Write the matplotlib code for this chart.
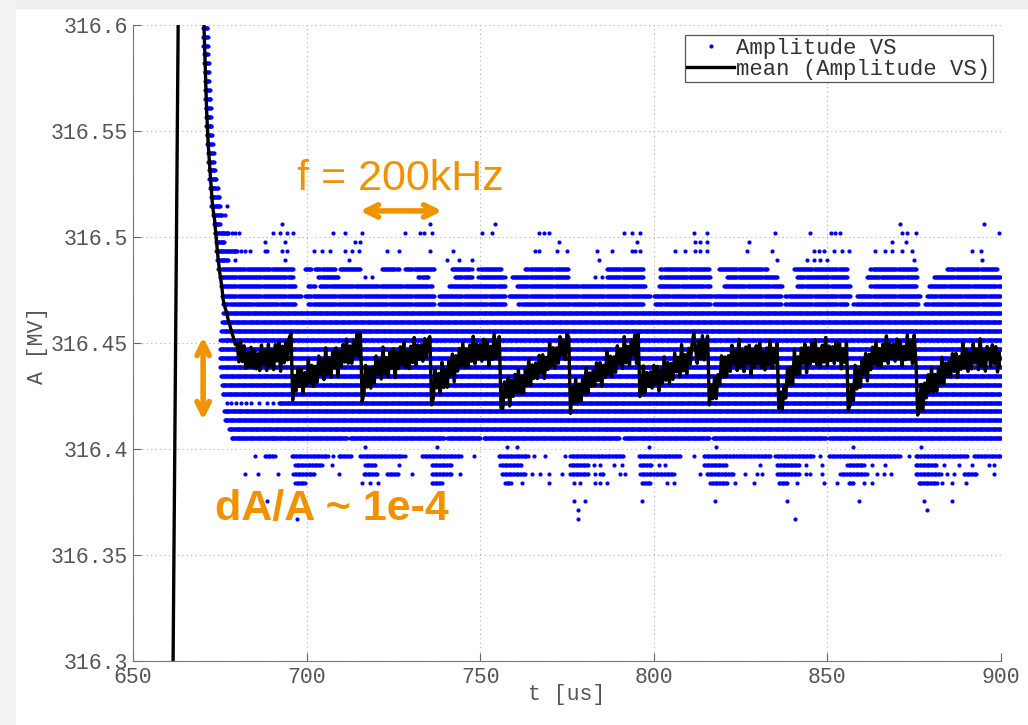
import numpy as np
import matplotlib
matplotlib.use("Agg")
import matplotlib.pyplot as plt
from matplotlib.patches import Rectangle

# ==========================
# DATA
# ==========================

# mean trace, start-up transient (t [us], A [MV])
MEAN_T_START = [661.45, 663.1, 666.5, 670.2, 670.45, 670.75, 671.2, 671.65,
                672.3, 672.9, 673.5, 674.0, 674.5]
MEAN_A_START = [316.28, 316.62, 317.2, 316.62, 316.5992, 316.5835, 316.5599,
                316.5442, 316.5284, 316.5150, 316.5080, 316.4990, 316.4900]

# mean trace after settling: 0.5 us samples, values in 1e-4 MV above 316.4
MEAN_DT = 0.5
PERIOD_START = [675.0, 696.0, 716.0, 736.0, 756.0, 776.0, 796.0, 816.0,
                836.0, 856.0, 876.0]
MEAN_P0 = [830, 775, 702, 668, 641, 603, 578, 546, 522, 492,
           498, 411, 508, 412, 487, 380, 454, 387, 480, 387,
           466, 378, 450, 370, 491, 398, 464, 370, 495, 392,
           467, 374, 493, 415, 505, 367, 485, 406, 507, 420,
           525, 545]
MEAN_P1 = [231, 346, 274, 381, 295, 378, 262, 360, 300, 423,
           311, 395, 295, 390, 314, 439, 350, 418, 327, 477,
           352, 429, 338, 459, 384, 477, 342, 463, 388, 493,
           410, 519, 404, 486, 404, 514, 440, 550, 436, 545]
MEAN_P2 = [223, 260, 395, 292, 382, 287, 385, 312, 439, 351,
           421, 330, 481, 355, 431, 339, 459, 382, 473, 336,
           456, 379, 482, 397, 504, 386, 465, 379, 485, 408,
           526, 397, 491, 423, 492, 414, 521, 434, 517, 530]
MEAN_P3 = [208, 240, 375, 288, 356, 262, 410, 290, 374, 291,
           419, 350, 448, 317, 440, 367, 474, 392, 502, 387,
           468, 384, 491, 414, 532, 402, 495, 426, 493, 414,
           518, 429, 510, 390, 485, 422, 543, 428, 509, 530]
MEAN_P4 = [193, 191, 317, 244, 338, 203, 324, 248, 352, 267,
           374, 261, 344, 263, 374, 301, 424, 298, 397, 333,
           406, 332, 442, 359, 445, 332, 432, 375, 501, 392,
           478, 381, 477, 404, 530, 442, 512, 422, 545, 528]
MEAN_P5 = [168, 291, 218, 334, 223, 306, 225, 336, 263, 385,
           260, 359, 296, 370, 297, 407, 323, 409, 295, 395,
           337, 462, 352, 438, 340, 435, 361, 487, 399, 469,
           379, 530, 406, 484, 394, 516, 442, 537, 404, 546]
MEAN_P6 = [247, 269, 392, 265, 361, 295, 364, 287, 394, 307,
           390, 273, 371, 311, 435, 324, 408, 309, 404, 328,
           453, 364, 433, 342, 493, 368, 445, 354, 475, 400,
           493, 546, 479, 404, 509, 426, 535, 420, 501, 533]
MEAN_P7 = [208, 300, 237, 338, 238, 351, 304, 440, 339, 434,
           341, 440, 366, 490, 399, 465, 370, 517, 388, 460,
           365, 481, 402, 490, 350, 467, 387, 487, 400, 504,
           384, 461, 373, 477, 398, 514, 382, 475, 405, 498]
MEAN_P8 = [192, 269, 185, 298, 240, 380, 306, 387, 306, 467,
           351, 435, 350, 476, 404, 497, 360, 478, 399, 500,
           412, 516, 397, 473, 385, 489, 410, 526, 394, 486,
           417, 483, 403, 507, 418, 498, 378, 472, 409, 506]
MEAN_P9 = [184, 206, 302, 229, 395, 283, 372, 291, 420, 352,
           451, 321, 446, 374, 481, 399, 509, 393, 473, 388,
           494, 416, 534, 403, 496, 427, 494, 414, 519, 429,
           510, 390, 484, 421, 541, 425, 506, 402, 538, 413]
MEAN_P10 = [160, 187, 305, 183, 311, 241, 350, 270, 382, 269,
            352, 272, 383, 310, 433, 307, 406, 342, 414, 340,
            450, 366, 452, 337, 436, 376, 499, 386, 468, 366,
            457, 378, 498, 405, 469, 374, 520, 390, 463, 367,
            483, 468, 388, 492, 403, 483, 363, 458, 394]
MEAN_PERIODS = [MEAN_P0, MEAN_P1, MEAN_P2, MEAN_P3, MEAN_P4, MEAN_P5,
                MEAN_P6, MEAN_P7, MEAN_P8, MEAN_P9, MEAN_P10]

# raw samples sit on ADC levels; runs = (level [MV], t from, t to)
SAMPLE_DT = 0.25
TRANSIENT_RUNS = [
    (316.5987, 670.2, 671.5), (316.5945, 670.3, 671.6), (316.5903, 670.3, 671.6),
    (316.5861, 670.4, 671.8), (316.5819, 670.5, 671.8), (316.5777, 670.6, 672.0),
    (316.5735, 670.7, 672.1), (316.5693, 670.8, 672.2), (316.5651, 670.8, 672.3),
    (316.5609, 670.9, 672.5), (316.5566, 671.0, 672.6), (316.5524, 671.1, 672.7),
    (316.5482, 671.2, 672.9), (316.5440, 671.4, 673.1), (316.5398, 671.5, 673.3),
    (316.5356, 671.7, 673.4), (316.5314, 671.9, 673.8), (316.5272, 672.0, 674.0),
    (316.5230, 672.2, 674.6), (316.5187, 672.4, 675.0), (316.5145, 672.6, 675.3),
    (316.5103, 673.0, 675.6), (316.5061, 673.3, 675.2), (316.5019, 673.5, 677.5),
    (316.4977, 673.8, 676.5), (316.4935, 674.0, 680.0), (316.4893, 674.3, 677.5),
]
UPPER_DT = 0.3
UPPER_RUNS = [
    # 316.4851
    (316.4851, 674.6, 696.2), (316.4851, 699.6, 701.5), (316.4851, 702.5, 708.2),
    (316.4851, 709.5, 715.5), (316.4851, 721.7, 726.5), (316.4851, 728.4, 737.0),
    (316.4851, 741.8, 747.5), (316.4851, 749.5, 756.2), (316.4851, 763.0, 775.5),
    (316.4851, 786.5, 797.1), (316.4851, 801.9, 816.0), (316.4851, 818.7, 832.6),
    (316.4851, 840.3, 855.7), (316.4851, 862.4, 875.8), (316.4851, 884.5, 898.9),
    # 316.4809
    (316.4809, 675.0, 696.2), (316.4809, 703.4, 709.2), (316.4809, 732.2, 735.1),
    (316.4809, 742.8, 747.6), (316.4809, 749.5, 757.2), (316.4809, 759.1, 775.5),
    (316.4809, 786.5, 797.1), (316.4809, 801.9, 816.3), (316.4809, 821.1, 835.5),
    (316.4809, 841.3, 855.7), (316.4809, 861.4, 875.8), (316.4809, 880.6, 899.9),
    # 316.4767
    (316.4767, 675.3, 696.7), (316.4767, 700.5, 702.5), (316.4767, 703.9, 736.1),
    (316.4767, 740.9, 757.2), (316.4767, 760.6, 797.5), (316.4767, 801.4, 816.3),
    (316.4767, 820.1, 836.9), (316.4767, 841.3, 856.6), (316.4767, 862.4, 875.8),
    (316.4767, 879.2, 899.9),
    # 316.4724
    (316.4724, 675.6, 698.6), (316.4724, 699.6, 737.0), (316.4724, 738.0, 757.2),
    (316.4724, 758.2, 799.0), (316.4724, 800.0, 816.8), (316.4724, 817.2, 836.9),
    (316.4724, 837.9, 856.6), (316.4724, 858.5, 876.8), (316.4724, 878.7, 899.9),
    # 316.4682
    (316.4682, 676.0, 696.7), (316.4682, 700.5, 737.0), (316.4682, 738.0, 757.2),
    (316.4682, 761.0, 797.1), (316.4682, 800.4, 816.3), (316.4682, 817.2, 836.9),
    (316.4682, 837.9, 855.6), (316.4682, 857.5, 876.2), (316.4682, 878.2, 899.9),
]
CORE_RUNS = [
    (316.4640, 676.0, 900.0), (316.4598, 675.6, 900.0), (316.4556, 675.4, 900.0),
    (316.4514, 675.2, 900.0), (316.4472, 675.0, 900.0), (316.4430, 675.0, 900.0),
    (316.4388, 675.2, 900.0), (316.4346, 675.4, 900.0), (316.4304, 675.6, 900.0),
    (316.4261, 675.8, 900.0), (316.4219, 692.0, 900.0), (316.4177, 676.2, 900.0),
    (316.4135, 676.4, 900.0), (316.4093, 677.6, 900.0),
    (316.4051, 678.4, 690.0), (316.4051, 690.0, 711.5), (316.4051, 712.5, 739.5),
    (316.4051, 740.5, 750.0), (316.4051, 751.0, 790.0), (316.4051, 791.5, 795.0),
    (316.4051, 795.5, 816.0), (316.4051, 817.0, 849.5), (316.4051, 850.5, 900.0),
]
LOWER_DT = 0.4
LOWER_RUNS = [
    # 316.3967
    (316.3967, 688.0, 690.9), (316.3967, 695.7, 706.3), (316.3967, 709.2, 713.0),
    (316.3967, 715.4, 727.4), (316.3967, 733.2, 744.7), (316.3967, 755.3, 763.9),
    (316.3967, 775.9, 791.3), (316.3967, 795.6, 807.6), (316.3967, 814.4, 833.6),
    (316.3967, 835.0, 846.1), (316.3967, 850.4, 871.0), (316.3967, 875.4, 890.2),
    (316.3967, 892.2, 899.9),
    # 316.3925
    (316.3925, 696.7, 704.4), (316.3925, 716.9, 719.7), (316.3925, 736.1, 741.8),
    (316.3925, 755.8, 762.0), (316.3925, 775.9, 781.2), (316.3925, 796.1, 799.5),
    (316.3925, 814.4, 821.1), (316.3925, 835.5, 842.2), (316.3925, 855.7, 860.5),
    (316.3925, 875.4, 881.6),
    # 316.3882
    (316.3882, 696.2, 702.5), (316.3882, 716.4, 720.7), (316.3882, 723.1, 726.5),
    (316.3882, 736.1, 741.8), (316.3882, 756.2, 763.0), (316.3882, 775.9, 781.2),
    (316.3882, 784.6, 785.5), (316.3882, 796.1, 805.7), (316.3882, 815.3, 823.0),
    (316.3882, 835.5, 842.2), (316.3882, 853.7, 861.4), (316.3882, 875.4, 882.6),
    (316.3882, 889.3, 893.1),
    # 316.3840
    (316.3840, 696.7, 699.6), (316.3840, 736.1, 739.0), (316.3840, 757.2, 759.1),
    (316.3840, 796.6, 799.0), (316.3840, 816.3, 821.1), (316.3840, 836.0, 838.4),
    (316.3840, 856.2, 857.6), (316.3840, 876.3, 881.6),
]

# isolated samples per level (t [us])
DOTS_5145 = [677.2]
DOTS_5103 = [676.5]
DOTS_5061 = [692.8, 735.6, 754.3, 871.0, 895.0]
DOTS_5019 = [678.5, 679.5, 680.4, 690.4, 692.4, 694.3, 696.2, 707.7, 711.1,
             715.9, 728.4, 732.7, 733.7, 736.1, 750.5, 753.4, 766.8, 768.3,
             769.7, 791.3, 793.7, 796.1, 811.5, 815.3, 835.0, 845.1, 850.9,
             852.3, 853.7, 871.5, 873.0, 875.4, 899.4]
DOTS_4977 = [688.0, 693.8, 714.0, 715.4, 772.6, 795.2, 812.0, 813.4, 815.3,
             827.3, 868.6, 872.5]
DOTS_4935 = [681.0, 682.3, 683.7, 688.0, 688.5, 692.8, 694.3, 702.0, 704.4,
             706.8, 711.1, 713.0, 715.0, 723.1, 726.5, 735.6, 742.3, 765.8,
             766.8, 772.1, 775.0, 783.6, 787.9, 793.7, 794.7, 796.1, 806.2,
             809.1, 812.0, 813.4, 815.3, 826.8, 834.1, 846.1, 847.5, 849.0,
             851.8, 854.2, 856.2, 863.8, 866.7, 868.6, 871.5, 874.4, 891.7,
             894.1]
DOTS_4893 = [679.4, 693.8, 712.1, 740.4, 743.8, 747.6, 784.1, 835.5, 844.1,
             846.1, 848.0, 849.9, 874.9, 894.6]
DOTS_4809 = [716.9, 718.8, 783.1, 785.1]
DOTS_4219 = [677.0, 678.2, 679.6, 681.0, 682.5, 684.0, 686.2, 688.5, 690.3]
DOTS_4009 = [716.9, 737.5, 757.7, 760.6, 798.5, 818.0, 857.5, 877.0]
DOTS_3967 = [685.2, 707.7, 728.4, 748.1, 765.4, 768.7, 774.5, 811.5, 848.0,
             873.4]
DOTS_3925 = [707.3, 726.5, 782.7, 784.6, 788.4, 790.8, 801.4, 803.3, 830.7,
             843.7, 848.5, 862.9, 866.7, 883.5, 887.9, 891.7, 896.5, 897.9]
DOTS_3882 = [682.3, 686.1, 691.9, 709.2, 730.3, 744.2, 764.9, 767.3, 769.7,
             773.5, 783.1, 790.3, 791.8, 813.4, 826.4, 829.7, 831.2, 843.7,
             845.1, 848.5, 864.3, 866.2, 868.2, 884.5, 886.4, 897.9]
DOTS_3840 = [715.9, 718.3, 720.7, 762.0, 769.7, 776.9, 778.8, 783.1, 784.6,
             786.5, 803.8, 805.7, 823.5, 828.8, 841.3, 849.0, 852.8, 860.5,
             862.9, 883.0, 885.9, 889.8]
DOTS_3756 = [688.5, 776.9, 780.3, 796.6, 817.7, 838.4, 859.0, 877.8, 885.9]
DOTS_3714 = [778.3, 878.7]
DOTS_3672 = [697.2, 778.3, 840.8]
DOT_LEVELS = [
    (316.5145, DOTS_5145), (316.5103, DOTS_5103), (316.5061, DOTS_5061),
    (316.5019, DOTS_5019), (316.4977, DOTS_4977), (316.4935, DOTS_4935),
    (316.4893, DOTS_4893), (316.4809, DOTS_4809), (316.4219, DOTS_4219),
    (316.4009, DOTS_4009), (316.3967, DOTS_3967), (316.3925, DOTS_3925),
    (316.3882, DOTS_3882), (316.3840, DOTS_3840), (316.3756, DOTS_3756),
    (316.3714, DOTS_3714), (316.3672, DOTS_3672),
]

X_TICKS = [650, 700, 750, 800, 850, 900]
Y_TICKS = [316.3, 316.35, 316.4, 316.45, 316.5, 316.55, 316.6]
Y_TICK_LABELS = ["316.3", "316.35", "316.4", "316.45", "316.5", "316.55", "316.6"]

# ==========================
# BUILD POINT ARRAYS
# ==========================

def runs_to_points(runs, dt):
    ts, amps = [], []
    for a, t0, t1 in runs:
        t = np.arange(t0, t1 + 1e-6, dt)
        ts.append(t)
        amps.append(np.full(t.size, a))
    return ts, amps

dot_t, dot_a = [], []
for runs, dt in [(TRANSIENT_RUNS, SAMPLE_DT), (UPPER_RUNS, UPPER_DT),
                 (CORE_RUNS, SAMPLE_DT), (LOWER_RUNS, LOWER_DT)]:
    ts, amps = runs_to_points(runs, dt)
    dot_t += ts
    dot_a += amps
for a, times in DOT_LEVELS:
    dot_t.append(np.array(times))
    dot_a.append(np.full(len(times), a))
dot_t = np.concatenate(dot_t)
dot_a = np.concatenate(dot_a)

mean_t = [np.array(MEAN_T_START)]
mean_a = [np.array(MEAN_A_START)]
for t0, vals in zip(PERIOD_START, MEAN_PERIODS):
    mean_t.append(t0 + MEAN_DT * np.arange(len(vals)))
    mean_a.append(316.4 + np.array(vals) * 1e-4)
mean_t = np.concatenate(mean_t)
mean_a = np.concatenate(mean_a)

# ==========================
# FIGURE
# ==========================

MONO = "Liberation Mono"
SANS = "Liberation Sans"
TXT = "#555555"
ORANGE = "#f39200"
FS = 15.5

plt.rcParams["font.family"] = MONO

fig = plt.figure(figsize=(10.28, 7.25), dpi=100)
fig.patch.set_facecolor("white")
fig.add_artist(Rectangle((0, 1 - 8 / 725), 1, 8 / 725, transform=fig.transFigure,
                         color="#eeeeee", zorder=0))
fig.add_artist(Rectangle((0, 0), 15 / 1028, 1, transform=fig.transFigure,
                         color="#f2f2f2", zorder=0))

ax = fig.add_axes([133 / 1028, 64 / 725, 868 / 1028, 636 / 725])
ax.set_axisbelow(True)

ax.plot(dot_t, dot_a, ls="none", marker="o", ms=3.0, mew=0, color="#0000ff",
        label="Amplitude VS", zorder=2)
ax.plot(mean_t, mean_a, color="black", lw=2.4, label="mean (Amplitude VS)",
        zorder=3)

ax.set_xlim(650, 900)
ax.set_ylim(316.3, 316.6)
ax.set_xticks(X_TICKS)
ax.set_yticks(Y_TICKS)
ax.set_yticklabels(Y_TICK_LABELS)
ax.tick_params(direction="in", length=5.5, width=0.8, color="#666666",
               labelcolor=TXT, labelsize=FS, pad=3.5)
ax.tick_params(axis="x", pad=4.2)
for side in ["top", "right"]:
    ax.spines[side].set_visible(False)
for side in ["left", "bottom"]:
    ax.spines[side].set_color("#777777")
    ax.spines[side].set_linewidth(0.8)
ax.grid(True, linestyle=(0, (1, 3)), color="#b0b0b0", linewidth=0.8)

ax.set_ylabel("A [MV]", fontsize=FS, color=TXT)
ax.yaxis.set_label_coords(-0.098, 0.497)
ax.set_xlabel("t [us]", fontsize=FS, color=TXT)
ax.xaxis.set_label_coords(0.5, -0.036)

leg = ax.legend(loc="upper right", bbox_to_anchor=(0.9908, 0.9843),
                borderaxespad=0, fontsize=16, fancybox=False, framealpha=1,
                edgecolor="#555555", borderpad=0.12, labelspacing=0.0,
                handlelength=2.1, handletextpad=0.1, numpoints=1)
leg.get_frame().set_linewidth(0.9)
for txt in leg.get_texts():
    txt.set_color("#333333")

# ── orange annotations ─────────────────────────────────────────────────────
ax.text(697.3, 316.5222, "f = 200kHz", color=ORANGE, fontsize=31,
        family=SANS, ha="left", va="baseline", zorder=5)
ax.text(673.6, 316.3665, "dA/A ~ 1e-4", color=ORANGE, fontsize=31,
        family=SANS, fontweight="bold", ha="left", va="baseline", zorder=5)
ax.annotate("", xy=(739.0, 316.5123), xytext=(715.4, 316.5123),
            arrowprops=dict(arrowstyle="<->", color=ORANGE, lw=4,
                            mutation_scale=22, shrinkA=0, shrinkB=0), zorder=5)
ax.annotate("", xy=(670.2, 316.4137), xytext=(670.2, 316.4528),
            arrowprops=dict(arrowstyle="<->", color=ORANGE, lw=4,
                            mutation_scale=22, shrinkA=0, shrinkB=0), zorder=5)

fig.savefig("out.png", dpi=100, facecolor=fig.get_facecolor())
plt.close(fig)
print("saved out.png")
